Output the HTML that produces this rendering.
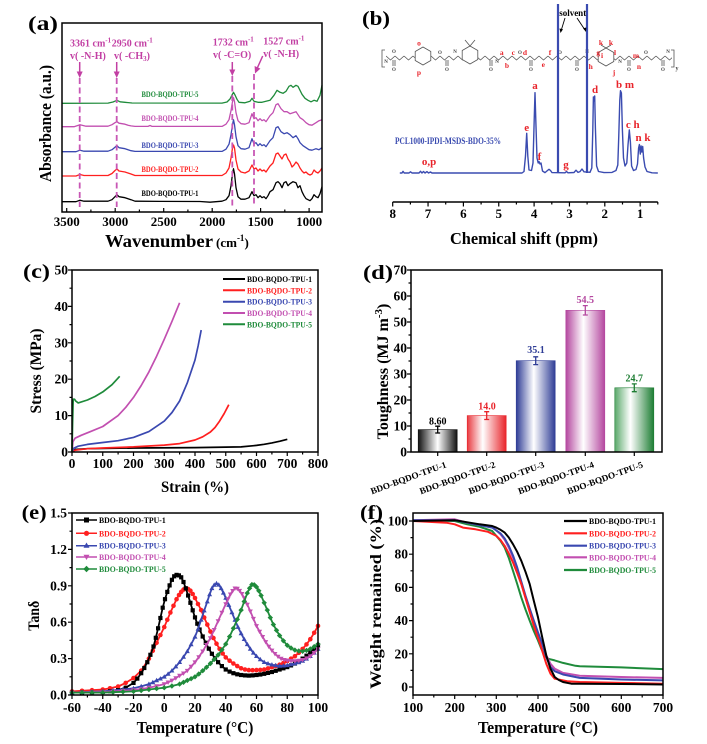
<!DOCTYPE html>
<html><head><meta charset="utf-8"><style>
html,body{margin:0;padding:0;background:#fff;}
svg{display:block;}
text{font-family:"Liberation Serif","DejaVu Serif",serif;font-weight:bold;}
</style></head><body>
<svg width="707" height="744" viewBox="0 0 707 744" xmlns="http://www.w3.org/2000/svg">
<defs>
<linearGradient id="g1" x1="0" x2="1" y1="0" y2="0"><stop offset="0" stop-color="#111"/><stop offset="0.5" stop-color="#fff"/><stop offset="1" stop-color="#111"/></linearGradient>
<linearGradient id="g2" x1="0" x2="1" y1="0" y2="0"><stop offset="0" stop-color="#e83a40"/><stop offset="0.4" stop-color="#fff"/><stop offset="1" stop-color="#e8232a"/></linearGradient>
<linearGradient id="g3" x1="0" x2="1" y1="0" y2="0"><stop offset="0" stop-color="#2f3d96"/><stop offset="0.45" stop-color="#fff"/><stop offset="1" stop-color="#2f3d96"/></linearGradient>
<linearGradient id="g4" x1="0" x2="1" y1="0" y2="0"><stop offset="0" stop-color="#b4479f"/><stop offset="0.45" stop-color="#fff"/><stop offset="1" stop-color="#b4479f"/></linearGradient>
<linearGradient id="g5" x1="0" x2="1" y1="0" y2="0"><stop offset="0" stop-color="#5aa86a"/><stop offset="0.4" stop-color="#fff"/><stop offset="1" stop-color="#1e7e34"/></linearGradient>
<pattern id="zz" x="386" y="55" width="9" height="6" patternUnits="userSpaceOnUse"><polyline points="0,1 4.5,5 9,1" stroke="#555" fill="none" stroke-width="0.8"/></pattern>
<marker id="m1" markerWidth="6" markerHeight="6" refX="3" refY="3" markerUnits="userSpaceOnUse"><rect x="0.9" y="0.9" width="4.2" height="4.2" fill="#000"/></marker>
<marker id="m2" markerWidth="6" markerHeight="6" refX="3" refY="3" markerUnits="userSpaceOnUse"><circle cx="3" cy="3" r="2.3" fill="#ff1f1f"/></marker>
<marker id="m3" markerWidth="6" markerHeight="6" refX="3" refY="3.2" markerUnits="userSpaceOnUse"><polygon points="3,0.6 5.5,5 0.5,5" fill="#3a48b0"/></marker>
<marker id="m4" markerWidth="6" markerHeight="6" refX="3" refY="2.8" markerUnits="userSpaceOnUse"><polygon points="0.5,1 5.5,1 3,5.4" fill="#c24fb0"/></marker>
<marker id="m5" markerWidth="6" markerHeight="6" refX="3" refY="3" markerUnits="userSpaceOnUse"><polygon points="3,0.3 5.7,3 3,5.7 0.3,3" fill="#1f8b3b"/></marker>
</defs>
<rect width="707" height="744" fill="#fff"/>

<!-- ============ PANEL A ============ -->
<text x="28" y="30" font-size="20" textLength="30" lengthAdjust="spacingAndGlyphs">(a)</text>
<g fill="none" stroke-linejoin="round" stroke-width="1.3">
<polyline stroke="#1f8b3b" points="62,103.3 108,103.1 113,102 117,100.3 120,101.8 125,102.3 132,103 222,103.1 227,102 230,99 232,95 233.5,92.3 235,95 237,99.3 239,102.3 245,102.8 250,101.3 252,98.3 254,101.3 258,102.3 262,102.3 266,101.3 270,100.3 274,95.3 277,90.3 280,92.3 283,93.3 286,91.3 289,86.3 291,85.3 293,87.3 296,85.3 298,86.3 300,90.3 302,94.3 305,98.3 308,100.3 311,101.8 314,100.3 317,101.3 320,95.3 322,85.3"/>
<polyline stroke="#c24fb0" points="62,126.7 74,126.7 80,124.7 86,126.2 108,126.2 112,124.7 115,122.7 117,121.7 119,123.2 122,123.7 125,124.2 128,125.2 131,125.9 135,126.4 148,126.4 150,125.5 152,126.4 222,126.4 226,124.2 229,119.7 231,110.7 232.5,101.7 233.5,97.7 234.5,101.7 236,112.7 238,120.7 241,123.7 245,124.2 249,122.7 252,113.7 254,118.7 256,117.7 258,120.7 260,118.7 262,120.7 264,119.7 266,121.7 268,118.7 270,115.7 273,112.7 276,104.7 278,103.7 281,108.7 284,111.7 287,111.7 290,113.7 293,112.7 296,111.7 298,114.7 300,117.7 303,119.7 306,122.7 309,124.7 312,125.2 316,122.7 319,120.7 322,119.7"/>
<polyline stroke="#3a48b0" points="62,151.7 76,151.7 80,150.2 84,151.2 108,151.2 112,149.7 115,147.2 117,145.7 119,147.7 122,148.2 125,148.7 128,149.7 131,150.7 135,151.4 222,151.4 226,149.2 229,144.2 231,134.7 232.5,124.7 233.5,119.7 234.5,124.7 236,136.7 238,145.7 241,148.7 245,149.2 249,147.7 252,138.7 254,143.7 256,142.7 258,145.7 260,143.7 262,145.7 264,144.7 266,146.7 268,143.7 270,140.7 273,137.7 276,127.7 278,126.7 281,131.7 284,133.7 287,132.7 290,134.7 293,137.7 296,135.7 298,138.7 300,142.7 303,145.7 306,147.7 309,149.7 312,150.2 316,148.7 319,149.7 322,147.7"/>
<polyline stroke="#ff1f1f" points="62,176 76,176 80,174.5 84,175.5 108,175.5 112,173.5 115,170.5 117,169 119,171 122,171.5 125,172 128,173 131,174 135,175.5 222,175.5 226,173 229,168 231,158 232.5,148 233.5,145 234.5,148 236,160 238,169 241,172 245,173 249,171 252,165 254,169 256,168 258,171 260,169 262,171 264,170 266,172 268,169 270,166 273,163 276,154 278,153 280,156 282,159 284,155 286,154 288,159 290,162 292,167 294,165 296,162 298,164 300,168 302,171 304,173 306,172 308,174 310,175 312,174 314,170 316,172 318,173 320,171 322,168"/>
<polyline stroke="#000" points="62,201.7 76,201.7 80,200.2 84,201.2 108,201.2 112,199.7 115,196.7 117,194.7 119,196.7 122,197.2 125,197.7 128,198.7 131,199.7 135,201.2 160,201.4 200,201.5 210,202.2 222,201.2 226,199.7 229,195.7 231,185.7 232.5,173.7 233.5,168.7 234.5,173.7 236,187.7 238,196.7 241,199.2 245,199.2 249,197.7 252,191.7 254,195.7 256,194.7 258,197.7 260,195.7 262,197.7 264,196.7 266,198.7 268,195.7 270,191.7 273,189.7 276,182.7 278,181.7 280,183.7 282,187.7 284,182.7 286,181.7 288,185.7 290,183.7 293,181.7 296,182.7 298,187.7 300,185.7 302,191.7 304,195.7 306,198.7 308,199.7 310,200.7 312,198.7 314,194.7 316,196.7 318,197.7 320,193.7 322,186.7"/>
</g>
<g stroke="#c857b5" stroke-width="1.8" stroke-dasharray="6,3.5" fill="none">
<path d="M79.7,78V207M116.7,78V207M232.3,76V207M254,74V207"/>
</g>
<g stroke="#c23fa3" stroke-width="1.5" fill="#c23fa3">
<path d="M79.7,62V73M116.7,62V73M232.3,62V71M262.7,56L257.3,68" fill="none"/>
<polygon points="76.7,71.5 82.7,71.5 79.7,78" stroke="none"/>
<polygon points="113.7,71.5 119.7,71.5 116.7,78" stroke="none"/>
<polygon points="229.3,69.5 235.3,69.5 232.3,76" stroke="none"/>
<polygon points="255,73.5 260.4,68.6 254.6,66" stroke="none"/>
</g>
<g fill="#c23fa3" font-size="10">
<text x="70" y="46.5">3361 cm<tspan font-size="7" dy="-4">-1</tspan></text>
<text x="70" y="59">v( -N-H)</text>
<text x="111.7" y="46.5">2950 cm<tspan font-size="7" dy="-4">-1</tspan></text>
<text x="114" y="59">v( -CH<tspan font-size="7" dy="2">3</tspan><tspan dy="-2">)</tspan></text>
<text x="212.7" y="45.5">1732 cm<tspan font-size="7" dy="-4">-1</tspan></text>
<text x="213" y="58">v( -C=O)</text>
<text x="263.3" y="44.5">1527 cm<tspan font-size="7" dy="-4">-1</tspan></text>
<text x="263.3" y="57">v( -N-H)</text>
</g>
<g font-size="8" text-anchor="middle">
<text x="170" y="97" fill="#1f8b3b" textLength="57" lengthAdjust="spacingAndGlyphs">BDO-BQDO-TPU-5</text>
<text x="170" y="121" fill="#c24fb0" textLength="57" lengthAdjust="spacingAndGlyphs">BDO-BQDO-TPU-4</text>
<text x="170" y="148" fill="#3a48b0" textLength="57" lengthAdjust="spacingAndGlyphs">BDO-BQDO-TPU-3</text>
<text x="170" y="172" fill="#ff1f1f" textLength="57" lengthAdjust="spacingAndGlyphs">BDO-BQDO-TPU-2</text>
<text x="170" y="196" fill="#000" textLength="57" lengthAdjust="spacingAndGlyphs">BDO-BQDO-TPU-1</text>
</g>
<rect x="62" y="23" width="260" height="189" fill="none" stroke="#000" stroke-width="1.5"/>
<path d="M66.7,212v-4M115.2,212v-4M163.7,212v-4M212.2,212v-4M260.6,212v-4M309.1,212v-4M90.9,212v-2.5M139.4,212v-2.5M187.9,212v-2.5M236.4,212v-2.5M284.8,212v-2.5" stroke="#000" stroke-width="1.2"/>
<g font-size="13" text-anchor="middle">
<text x="66.7" y="226">3500</text><text x="115.2" y="226">3000</text><text x="163.7" y="226">2500</text><text x="212.2" y="226">2000</text><text x="260.6" y="226">1500</text><text x="309.1" y="226">1000</text>
</g>
<text x="105" y="247" font-size="18" textLength="108" lengthAdjust="spacingAndGlyphs">Wavenumber</text>
<text x="216" y="247" font-size="13">(cm<tspan dy="-6" font-size="9">-1</tspan><tspan dy="6">)</tspan></text>
<text transform="translate(51,123.5) rotate(-90)" text-anchor="middle" font-size="17" textLength="117" lengthAdjust="spacingAndGlyphs">Absorbance (a.u.)</text>

<!-- ============ PANEL B ============ -->
<text x="362" y="25" font-size="20" textLength="28" lengthAdjust="spacingAndGlyphs">(b)</text>
<!-- structure -->
<rect x="386" y="55" width="286" height="6" fill="url(#zz)"/>
<g stroke="#555" stroke-width="0.8" fill="#fff">
<polygon points="423,47 430.8,51.5 430.8,60.5 423,65 415.2,60.5 415.2,51.5"/>
<polygon points="470,46 477.8,50.5 477.8,59.5 470,64 462.2,59.5 462.2,50.5"/>
<polygon points="606,48 613.8,52.5 613.8,61.5 606,66 598.2,61.5 598.2,52.5"/>
<path d="M470,46L465,40M470,46L475,40M606,48L601,45M606,48L611,45M393,60V66M395,60V66M446,60V66M448,60V66M490,60V66M492,60V66M530,60V66M532,60V66M576,60V66M578,60V66M628,60V66M630,60V66M662,60V66M664,60V66M385,50H382V67H385M671,50H674V67H671" fill="none"/>
</g>
<g font-size="5" fill="#444" font-weight="normal" text-anchor="middle">
<text x="394" y="71">O</text><text x="447" y="71">O</text><text x="491" y="71">O</text><text x="531" y="71">O</text><text x="577" y="71">O</text><text x="629" y="71">O</text><text x="663" y="71">O</text>
<text x="394" y="53">O</text><text x="440" y="54">O</text><text x="520" y="54">O</text><text x="560" y="54">O</text><text x="646" y="54">O</text>
<text x="386" y="63">N</text><text x="455" y="53">N</text><text x="497" y="63">N</text><text x="587" y="53">N</text><text x="620" y="63">N</text><text x="668" y="53">N</text>
<text x="677" y="70" font-size="6">y</text>
</g>
<g font-size="7.5" fill="#e8232a" text-anchor="middle">
<text x="419" y="45.5">o</text><text x="419" y="75">p</text>
<text x="501.7" y="55">a</text><text x="507" y="68">b</text><text x="513.3" y="55">c</text><text x="525" y="55">d</text>
<text x="543.3" y="67">e</text><text x="550" y="55">f</text><text x="598.3" y="55">g</text><text x="590.7" y="69">h</text>
<text x="602" y="58">i</text><text x="601" y="45">k</text><text x="611" y="45">k</text><text x="615" y="55">l</text>
<text x="614" y="75">j</text><text x="636" y="58">m</text><text x="639" y="69">n</text>
</g>
<!-- spectrum -->
<path fill="none" stroke="#3a4bb0" stroke-width="1.4" stroke-linejoin="round" d="M399.8,173 L402,173 L403,171.3 L404.2,173 L409,173 L410.5,171.8 L412,173 L419,173 L420.5,171.3 L422,173 L423.5,171.5 L425,173 L427,171.6 L428.5,173 L430.5,172 L432,173 L522,173 L524,171.5 L525.5,156 L526.7,133.3 L527.8,156 L529,170 L531.5,170.5 L533,163 L534.2,120 L535,92.7 L535.8,120 L537,158 L538.2,163 L539,161.5 L540,164 L541,163 L542.5,171 L545,172.6 L547.5,170.5 L549,169.3 L550.5,170.5 L552,172.6 L565,172.8 L566.5,171.5 L568,172.8 L574,172.5 L576,170.2 L578,172.4 L580,171.6 L582,169 L584,171.8 L590,172.3 L591.8,168 L592.8,130 L593.4,97 L594,101 L594.7,96 L595.4,128 L596.6,166 L598.5,171.5 L604,172.6 L612,172.4 L616,170.5 L617.8,165 L618.8,135 L619.8,100 L620.5,90.7 L621.4,93 L622.4,130 L623.5,158 L625,166 L626.8,163 L628,145 L629.3,130 L630.4,142 L631.6,166 L633.5,170.5 L636,169.5 L637.5,164 L638.6,148 L639.4,144.5 L640.3,154 L641.1,146 L641.9,152 L642.7,146.5 L643.6,158 L645,167 L647,171.5 L652,172.8 L657.8,173"/>
<path d="M558,4V173M587,4V173" stroke="#3a4bb0" stroke-width="2.2"/>
<text x="572.7" y="16" font-size="9" text-anchor="middle">solvent</text>
<g stroke="#000" stroke-width="0.9" fill="#000">
<path d="M565,18L561,31M577,18L585,30" fill="none"/>
<polygon points="560.5,33 559.5,28.5 563,29.3" stroke="none"/>
<polygon points="586,32 583,28.3 586.3,27.5" stroke="none"/>
</g>
<text x="395" y="144" font-size="9" fill="#3a4bb0" textLength="106" lengthAdjust="spacingAndGlyphs">PCL1000-IPDI-MSDS-BDO-35%</text>
<g font-size="11" fill="#e8232a" text-anchor="middle">
<text x="429" y="165">o,p</text><text x="535" y="89">a</text><text x="526.7" y="131">e</text><text x="539.5" y="160">f</text>
<text x="566" y="168">g</text><text x="595" y="93">d</text><text x="625" y="88">b m</text><text x="632.7" y="128">c h</text><text x="643" y="141">n k</text>
</g>
<path d="M392.7,202H657.8" stroke="#000" stroke-width="1.6"/>
<path d="M392.7,202v4.5M428.05,202v4.5M463.4,202v4.5M498.75,202v4.5M534.1,202v4.5M569.45,202v4.5M604.8,202v4.5M640.15,202v4.5M410.4,202v2.5M445.7,202v2.5M481.1,202v2.5M516.4,202v2.5M551.8,202v2.5M587.1,202v2.5M622.5,202v2.5M657.8,202v2.5" stroke="#000" stroke-width="1.2"/>
<g font-size="13" text-anchor="middle">
<text x="392.7" y="218">8</text><text x="428.05" y="218">7</text><text x="463.4" y="218">6</text><text x="498.75" y="218">5</text><text x="534.1" y="218">4</text><text x="569.45" y="218">3</text><text x="604.8" y="218">2</text><text x="640.15" y="218">1</text>
</g>
<text x="524" y="244" font-size="17" text-anchor="middle" textLength="148" lengthAdjust="spacingAndGlyphs">Chemical shift (ppm)</text>

<!-- ============ PANEL C ============ -->
<text x="23" y="278" font-size="20" textLength="27" lengthAdjust="spacingAndGlyphs">(c)</text>
<g fill="none" stroke-width="1.7" stroke-linejoin="round">
<polyline stroke="#000" points="72,452 75.1,449.5 87.4,448.7 133.5,448 195,447.6 241.1,446.9 256.5,445.4 264.2,444.3 271.9,442.9 280,441.2 287.3,439.3"/>
<polyline stroke="#ff1f1f" points="72,452 75.1,450.2 87.4,448.7 102.8,448 133.5,446.9 164.3,445.1 179.6,443.6 195,440 202.7,436.8 210.4,432 215,427.5 219.6,421.1 224.2,413.5 228.8,404.7"/>
<polyline stroke="#3a48b0" points="72,452 73.5,448.4 78.2,446.2 87.4,444.4 102.8,442.5 118.1,440.7 133.5,437.4 148.9,431.6 164.3,421.1 172,412.5 179.6,401 187.3,382.8 195,360 198.1,346 201.2,330.1"/>
<polyline stroke="#c24fb0" points="72,452 72.9,441.8 75.1,438.2 81.2,435.3 90.5,431.6 102.8,426.5 118.1,415.6 125.8,407.3 133.5,397.4 141.2,385.5 148.9,371.9 156.6,356.2 164.3,339.2 172,321.3 179.6,302.8"/>
<polyline stroke="#1f8b3b" points="72,452 72.6,422.9 73.2,399.2 74.5,399.2 75.7,401 78.2,402.9 87.4,400 95,396.5 102.8,391.9 112,384.7 119.7,376.3"/>
</g>
<g font-size="8.5">
<path d="M223,279H245" stroke="#000" stroke-width="2"/><text x="247" y="282" textLength="65" lengthAdjust="spacingAndGlyphs">BDO-BQDO-TPU-1</text>
<path d="M223,290.3H245" stroke="#ff1f1f" stroke-width="2"/><text x="247" y="293.3" fill="#ff1f1f" textLength="65" lengthAdjust="spacingAndGlyphs">BDO-BQDO-TPU-2</text>
<path d="M223,301.7H245" stroke="#3a48b0" stroke-width="2"/><text x="247" y="304.7" fill="#3a48b0" textLength="65" lengthAdjust="spacingAndGlyphs">BDO-BQDO-TPU-3</text>
<path d="M223,313H245" stroke="#c24fb0" stroke-width="2"/><text x="247" y="316" fill="#c24fb0" textLength="65" lengthAdjust="spacingAndGlyphs">BDO-BQDO-TPU-4</text>
<path d="M223,324.3H245" stroke="#1f8b3b" stroke-width="2"/><text x="247" y="327.3" fill="#1f8b3b" textLength="65" lengthAdjust="spacingAndGlyphs">BDO-BQDO-TPU-5</text>
</g>
<rect x="72" y="270" width="246" height="182" fill="none" stroke="#000" stroke-width="1.5"/>
<path stroke="#000" stroke-width="1.2" d="M72,452v4M102.75,452v4M133.5,452v4M164.25,452v4M195,452v4M225.75,452v4M256.5,452v4M287.25,452v4M318,452v4M87.4,452v2.5M118.1,452v2.5M148.9,452v2.5M179.6,452v2.5M210.4,452v2.5M241.1,452v2.5M271.9,452v2.5M302.6,452v2.5M72,452h-4M72,415.6h-4M72,379.2h-4M72,342.8h-4M72,306.4h-4M72,270h-4M72,433.8h-2.5M72,397.4h-2.5M72,361h-2.5M72,324.6h-2.5M72,288.2h-2.5"/>
<g font-size="13.5" text-anchor="middle">
<text x="72" y="468">0</text><text x="102.75" y="468">100</text><text x="133.5" y="468">200</text><text x="164.25" y="468">300</text><text x="195" y="468">400</text><text x="225.75" y="468">500</text><text x="256.5" y="468">600</text><text x="287.25" y="468">700</text><text x="318" y="468">800</text>
</g>
<g font-size="13.5" text-anchor="end">
<text x="68" y="456.5">0</text><text x="68" y="420.1">10</text><text x="68" y="383.7">20</text><text x="68" y="347.3">30</text><text x="68" y="310.9">40</text><text x="68" y="274.5">50</text>
</g>
<text x="195" y="492" font-size="16" text-anchor="middle" textLength="68" lengthAdjust="spacingAndGlyphs">Strain (%)</text>
<text transform="translate(41,371) rotate(-90)" text-anchor="middle" font-size="16" textLength="85" lengthAdjust="spacingAndGlyphs">Stress (MPa)</text>

<!-- ============ PANEL D ============ -->
<text x="363" y="279" font-size="20" textLength="30" lengthAdjust="spacingAndGlyphs">(d)</text>
<rect x="418.2" y="429.6" width="39" height="22.4" fill="url(#g1)" stroke="#111" stroke-width="0.6"/>
<rect x="467.2" y="415.6" width="39" height="36.4" fill="url(#g2)" stroke="#e8232a" stroke-width="0.6"/>
<rect x="516.2" y="360.7" width="39" height="91.3" fill="url(#g3)" stroke="#2f3d96" stroke-width="0.6"/>
<rect x="565.8" y="310.3" width="39" height="141.7" fill="url(#g4)" stroke="#b4479f" stroke-width="0.6"/>
<rect x="614.8" y="387.8" width="39" height="64.2" fill="url(#g5)" stroke="#1e7e34" stroke-width="0.6"/>
<g stroke-width="1.3" fill="none">
<path stroke="#000" d="M437.7,426.2V433M435.2,426.2h5M435.2,433h5"/>
<path stroke="#e8232a" d="M486.7,411.7V419.5M484.2,411.7h5M484.2,419.5h5"/>
<path stroke="#2f3d96" d="M535.7,356.8V364.6M533.2,356.8h5M533.2,364.6h5"/>
<path stroke="#b4479f" d="M585.3,305.6V315M582.8,305.6h5M582.8,315h5"/>
<path stroke="#1e7e34" d="M634.3,383.9V391.7M631.8,383.9h5M631.8,391.7h5"/>
</g>
<g font-size="10" text-anchor="middle">
<text x="437.7" y="424.3" fill="#000">8.60</text>
<text x="487" y="409.3" fill="#e8232a">14.0</text>
<text x="536" y="353" fill="#2f3d96">35.1</text>
<text x="585.3" y="303" fill="#b4479f">54.5</text>
<text x="634.3" y="381.3" fill="#1e7e34">24.7</text>
</g>
<rect x="411" y="270" width="251" height="182" fill="none" stroke="#000" stroke-width="1.5"/>
<path stroke="#000" stroke-width="1.2" d="M411,452h-4M411,426h-4M411,400h-4M411,374h-4M411,348h-4M411,322h-4M411,296h-4M411,270h-4M411,439h-2.5M411,413h-2.5M411,387h-2.5M411,361h-2.5M411,335h-2.5M411,309h-2.5M411,283h-2.5M437.7,452v4M486.7,452v4M535.7,452v4M585.3,452v4M634.3,452v4"/>
<g font-size="13.5" text-anchor="end">
<text x="407" y="456.5">0</text><text x="407" y="430.5">10</text><text x="407" y="404.5">20</text><text x="407" y="378.5">30</text><text x="407" y="352.5">40</text><text x="407" y="326.5">50</text><text x="407" y="300.5">60</text><text x="407" y="274.5">70</text>
</g>
<g font-size="9" text-anchor="end">
<text transform="translate(447,467) rotate(-20)" textLength="80" lengthAdjust="spacingAndGlyphs">BDO-BQDO-TPU-1</text>
<text transform="translate(496,467) rotate(-20)" textLength="80" lengthAdjust="spacingAndGlyphs">BDO-BQDO-TPU-2</text>
<text transform="translate(545,467) rotate(-20)" textLength="80" lengthAdjust="spacingAndGlyphs">BDO-BQDO-TPU-3</text>
<text transform="translate(594.6,467) rotate(-20)" textLength="80" lengthAdjust="spacingAndGlyphs">BDO-BQDO-TPU-4</text>
<text transform="translate(643.6,467) rotate(-20)" textLength="80" lengthAdjust="spacingAndGlyphs">BDO-BQDO-TPU-5</text>
</g>
<text transform="translate(388,371.5) rotate(-90)" text-anchor="middle" font-size="16">Toughness (MJ m<tspan font-size="11" dy="-6">-3</tspan><tspan dy="6">)</tspan></text>

<!-- ============ PANEL E ============ -->
<text x="21.7" y="519" font-size="20" textLength="25" lengthAdjust="spacingAndGlyphs">(e)</text>
<g fill="none" stroke-width="1.8" stroke-linejoin="round">
<polyline stroke="#ff1f1f" marker-start="url(#m2)" marker-mid="url(#m2)" marker-end="url(#m2)" points="72,691.4 82,690.8 92,690.2 102.75,689.5 110,688.3 118.1,686.5 125.7,682.9 133.5,678 141.2,670.7 148.9,658.6 152.8,650.8 156.6,642.8 160.4,635 164.25,627.1 167.3,619.8 170.4,612.5 173.5,605.8 176.55,599.2 179,595 181.2,591.9 183.5,589.6 185.8,588.3 188.1,589 190.4,590.7 192.7,594 195,598 198,604 201.15,610.1 204.2,617.5 207.3,624.6 210.4,631.5 213.45,638 216.5,643.7 219.6,648.9 222.7,653.5 225.75,657.4 229.6,660.7 233.4,663.5 237.3,666.1 241.1,668.3 245,669.5 248.8,670.1 252.6,670.2 256.5,670.1 260.3,669.9 264.2,669.5 268,668.4 271.9,667.1 275.7,666 279.6,664.7 283.4,663 287.25,661 291,658.7 294.9,656.2 298.8,652.8 302.6,648.9 306.5,644.4 310.3,639.2 314.2,632.8 318,625.9"/>
<polyline stroke="#000" marker-start="url(#m1)" marker-mid="url(#m1)" marker-end="url(#m1)" points="72,692.6 82,692.4 92,692.2 102.75,692 110,691.2 118.1,690.1 125.7,687.7 133.5,682.9 137.3,678.6 141.2,673.2 144.3,668 147.3,662.2 150.4,654.8 153.5,646.5 155.8,637.8 158.1,628.3 160.4,618 162.7,607.7 165,599.2 167.3,591.9 169.6,585.4 171.9,579.8 174.2,576.3 176.55,574.9 178.9,575.4 181.2,577.3 183.5,582 185.8,588.3 188.1,595.5 190.4,602.8 192.7,610.3 195,617.4 197.3,623.7 199.6,629.5 202.7,636.5 205.8,642.8 208.8,648.7 211.9,653.8 215,658.3 218.1,662.2 221.9,666.1 225.75,669.5 229.6,671.6 233.4,673.2 237.3,674.3 241.1,675 245,675.4 248.8,675.6 252.6,675.4 256.5,675 260.3,674.5 264.2,673.8 268,672.9 271.9,672 275.7,670.8 279.6,669.5 283.4,668.3 287.25,667.1 291,665.4 294.9,663.5 298.8,661.2 302.6,658.6 306.5,655.7 310.3,652.5 314.2,649 318,645.3"/>
<polyline stroke="#3a48b0" marker-start="url(#m3)" marker-mid="url(#m3)" marker-end="url(#m3)" points="72,692.6 82,692.2 92,691.8 102.75,691.4 113,690.3 123,689.4 133.5,688.3 141.2,686.4 148.9,684.1 152.8,682.4 156.6,680.4 160.4,678.7 164.25,676.8 168.1,674 171.9,670.7 175.8,666.6 179.6,662.2 183.5,657 187.3,651.3 191.1,644.4 195,636.8 198.1,628.8 201.15,619.8 204.2,610.6 207.3,601.6 209.6,594.5 211.9,588.3 214.2,585 216.5,583.4 218.8,584.8 221.1,588.3 223.4,592.8 225.75,598 228.8,605.1 231.9,612.5 235,620 238,627.1 241.1,633.4 244.2,639.2 247.3,644.3 250.35,648.9 253.4,652.8 256.5,656.2 260.3,659.5 264.2,662.2 268,663.6 271.9,664.7 275.7,665.4 279.6,665.9 283.4,665.7 287.25,665.3 291,664.5 294.9,663.5 298.8,662.4 302.6,661 306.5,658.8 310.3,656.2 314.2,652.8 318,648.9"/>
<polyline stroke="#c24fb0" marker-start="url(#m4)" marker-mid="url(#m4)" marker-end="url(#m4)" points="72,692.6 82,692.4 92,692.2 102.75,692 113,691.4 123,690.8 133.5,690.1 141.2,689 148.9,687.7 156.6,686 164.25,684.1 168.1,682.3 171.9,680.4 175.8,678.1 179.6,675.6 183.5,673.3 187.3,670.7 191.1,666.6 195,662.2 198.8,657 202.7,651.3 206.5,644.8 210.4,638 214.2,629.8 218.1,621 221.9,612.5 225.75,604 228,599 230.4,594.3 232.7,590.8 235,588.3 237.3,588.6 239.6,590.7 241.9,593.8 244.2,598 247.3,604.5 250.35,611.3 253.4,618.7 256.5,625.9 259.6,631.6 262.65,636.8 265.7,641.9 268.8,646.5 271.9,650.4 274.95,653.8 278,656.5 281.1,658.6 284.2,659.8 287.25,660.4 291,660.8 294.9,661 298.8,660.6 302.6,659.8 306.5,658.2 310.3,656.2 314.2,652.8 318,648.9"/>
<polyline stroke="#1f8b3b" marker-start="url(#m5)" marker-mid="url(#m5)" marker-end="url(#m5)" points="72,692.6 82,692.6 92,692.6 102.75,692.6 113,692.2 123,691.8 133.5,691.4 141.2,690.5 148.9,689.5 156.6,688.6 164.25,687.7 171.9,686 179.6,684.1 183.5,682.3 187.3,680.4 191.1,678.7 195,676.8 198.8,674 202.7,670.7 206.5,667.3 210.4,663.5 214.2,659.4 218.1,655 221.9,649.8 225.75,644.1 229.6,636.6 233.4,628.3 237.3,619.4 241.1,610.1 244.2,601.5 247.3,593.1 249.6,588.2 251.9,584.6 254.2,584.8 256.5,587 258.8,590.8 261.1,595.5 264.2,602.8 267.3,610.1 270.3,617.6 273.4,624.6 276.5,630.3 279.6,635.6 283.4,640.8 287.25,645.3 291,648 294.9,650.1 298.8,651 302.6,651.3 306.5,650.4 310.3,648.9 314.2,646.6 318,644.1"/>
</g>
<g font-size="8.5">
<path d="M76,520H97" stroke="#000" stroke-width="1.5"/><rect x="84" y="517.5" width="5" height="5" fill="#000"/><text x="99" y="523" textLength="66.7" lengthAdjust="spacingAndGlyphs">BDO-BQDO-TPU-1</text>
<path d="M76,533.3H97" stroke="#ff1f1f" stroke-width="1.5"/><circle cx="86.5" cy="533.3" r="2.6" fill="#ff1f1f"/><text x="99" y="536.3" fill="#ff1f1f" textLength="66.7" lengthAdjust="spacingAndGlyphs">BDO-BQDO-TPU-2</text>
<path d="M76,545.7H97" stroke="#3a48b0" stroke-width="1.5"/><polygon points="86.5,542.5 89.5,547.7 83.5,547.7" fill="#3a48b0"/><text x="99" y="548.7" fill="#3a48b0" textLength="66.7" lengthAdjust="spacingAndGlyphs">BDO-BQDO-TPU-3</text>
<path d="M76,557H97" stroke="#c24fb0" stroke-width="1.5"/><polygon points="83.5,554.8 89.5,554.8 86.5,560" fill="#c24fb0"/><text x="99" y="560" fill="#c24fb0" textLength="66.7" lengthAdjust="spacingAndGlyphs">BDO-BQDO-TPU-4</text>
<path d="M76,569H97" stroke="#1f8b3b" stroke-width="1.5"/><polygon points="86.5,565.8 89.7,569 86.5,572.2 83.3,569" fill="#1f8b3b"/><text x="99" y="572" fill="#1f8b3b" textLength="66.7" lengthAdjust="spacingAndGlyphs">BDO-BQDO-TPU-5</text>
</g>
<rect x="72" y="513" width="246" height="182" fill="none" stroke="#000" stroke-width="1.5"/>
<path stroke="#000" stroke-width="1.2" d="M72,695v4M102.75,695v4M133.5,695v4M164.25,695v4M195,695v4M225.75,695v4M256.5,695v4M287.25,695v4M318,695v4M87.4,695v2.5M118.1,695v2.5M148.9,695v2.5M179.6,695v2.5M210.4,695v2.5M241.1,695v2.5M271.9,695v2.5M302.6,695v2.5M72,695h-4M72,658.6h-4M72,622.2h-4M72,585.8h-4M72,549.4h-4M72,513h-4M72,676.8h-2.5M72,640.4h-2.5M72,604h-2.5M72,567.6h-2.5M72,531.2h-2.5"/>
<g font-size="13.5" text-anchor="middle">
<text x="72" y="712">-60</text><text x="102.75" y="712">-40</text><text x="133.5" y="712">-20</text><text x="164.25" y="712">0</text><text x="195" y="712">20</text><text x="225.75" y="712">40</text><text x="256.5" y="712">60</text><text x="287.25" y="712">80</text><text x="318" y="712">100</text>
</g>
<g font-size="13.5" text-anchor="end">
<text x="67" y="699.5">0.0</text><text x="67" y="663.1">0.3</text><text x="67" y="626.7">0.6</text><text x="67" y="590.3">0.9</text><text x="67" y="553.9">1.2</text><text x="67" y="517.5">1.5</text>
</g>
<text x="195" y="733" font-size="17" text-anchor="middle" textLength="116.7" lengthAdjust="spacingAndGlyphs">Temperature (°C)</text>
<text transform="translate(39,615.7) rotate(-90)" text-anchor="middle" font-size="16" textLength="30" lengthAdjust="spacingAndGlyphs">Tanδ</text>

<!-- ============ PANEL F ============ -->
<text x="360" y="519" font-size="20" textLength="23" lengthAdjust="spacingAndGlyphs">(f)</text>
<g fill="none" stroke-width="2" stroke-linejoin="round">
<polyline stroke="#1f8b3b" points="413,520.2 454.7,521 467.2,524.3 479.7,526.8 492.2,531 496.3,535.9 500.5,540.9 504.7,547.6 508.8,558 513,570.8 517.2,584 521.3,597.4 525.5,609.5 529.7,620.6 533.8,631 538,640.5 541.2,648.5 544.3,655.5 548.4,658.8 554.7,660.4 563,662.9 575.5,665.8 579.7,666.3 621.3,667.4 663,669.1"/>
<polyline stroke="#c24fb0" points="413,520.2 454.7,519.3 467.2,522.7 479.7,525.2 492.2,526.8 500.5,534.3 504.7,539.8 508.8,547.6 513,557.5 517.2,569.1 521.3,583 525.5,597.4 529.7,610.5 533.8,622.3 538,633.5 542.2,643.8 546.3,655.5 550.5,663.8 554.7,668.7 563,672.9 579.7,675.7 621.3,677 663,677.9"/>
<polyline stroke="#3a48b0" points="413,520.2 454.7,520.2 467.2,522.7 479.7,525.2 492.2,527.6 500.5,533.4 504.7,538.5 508.8,545.9 513,555.5 517.2,567.5 521.3,581.5 525.5,595.7 529.7,608.5 533.8,620.6 538,632.5 542.2,643.8 546.3,657.1 550.5,667.1 554.7,671.2 563,674.5 579.7,677.9 621.3,679.5 663,680.4"/>
<polyline stroke="#ff1f1f" points="413,521 446.3,522.7 454.7,524.3 463,527.6 475.5,529.3 488,531.8 496.3,535.9 500.5,540 504.7,545.9 508.8,553.5 513,562.5 517.2,573 521.3,584.1 526.3,600.7 530,613 533.8,625.6 537,635 540.1,643.8 543.2,654 546.3,663.8 550.5,673.7 554.7,678.7 567.2,681.2 579.7,682 621.3,682.9 663,683.7"/>
<polyline stroke="#000" points="413,521 454.7,520.2 479.7,524.3 492.2,526 496.3,527.6 500.5,529.8 504.7,532.6 508.8,537.5 513,544.2 517.2,551.8 521.3,560.8 525.5,571.8 529.7,584.1 533.8,600.7 538,617.3 542.2,637.2 546.3,655.5 550.5,668.7 554.7,677 558.8,680 563,682 571.3,683.7 579.7,683.7 621.3,684 663,684.5"/>
</g>
<g font-size="8.5">
<path d="M564,521H587" stroke="#000" stroke-width="2.2"/><text x="589" y="524" textLength="67" lengthAdjust="spacingAndGlyphs">BDO-BQDO-TPU-1</text>
<path d="M564,533.3H587" stroke="#ff1f1f" stroke-width="2.2"/><text x="589" y="536.3" fill="#ff1f1f" textLength="67" lengthAdjust="spacingAndGlyphs">BDO-BQDO-TPU-2</text>
<path d="M564,545.7H587" stroke="#3a48b0" stroke-width="2.2"/><text x="589" y="548.7" fill="#3a48b0" textLength="67" lengthAdjust="spacingAndGlyphs">BDO-BQDO-TPU-3</text>
<path d="M564,557.3H587" stroke="#c24fb0" stroke-width="2.2"/><text x="589" y="560.3" fill="#c24fb0" textLength="67" lengthAdjust="spacingAndGlyphs">BDO-BQDO-TPU-4</text>
<path d="M564,570H587" stroke="#1f8b3b" stroke-width="2.2"/><text x="589" y="573" fill="#1f8b3b" textLength="67" lengthAdjust="spacingAndGlyphs">BDO-BQDO-TPU-5</text>
</g>
<rect x="413" y="513" width="250" height="182" fill="none" stroke="#000" stroke-width="1.5"/>
<path stroke="#000" stroke-width="1.2" d="M413,695v4M454.7,695v4M496.3,695v4M538,695v4M579.7,695v4M621.3,695v4M663,695v4M433.8,695v2.5M475.5,695v2.5M517.2,695v2.5M558.8,695v2.5M600.5,695v2.5M642.2,695v2.5M413,687h-4M413,653.8h-4M413,620.6h-4M413,587.4h-4M413,554.2h-4M413,521h-4M413,670.4h-2.5M413,637.2h-2.5M413,604h-2.5M413,570.8h-2.5M413,537.6h-2.5"/>
<g font-size="13.5" text-anchor="middle">
<text x="413" y="712">100</text><text x="454.7" y="712">200</text><text x="496.3" y="712">300</text><text x="538" y="712">400</text><text x="579.7" y="712">500</text><text x="621.3" y="712">600</text><text x="663" y="712">700</text>
</g>
<g font-size="13.5" text-anchor="end">
<text x="408" y="691.5">0</text><text x="408" y="658.3">20</text><text x="408" y="625.1">40</text><text x="408" y="591.9">60</text><text x="408" y="558.7">80</text><text x="408" y="525.5">100</text>
</g>
<text x="538" y="733" font-size="17" text-anchor="middle" textLength="120" lengthAdjust="spacingAndGlyphs">Temperature (°C)</text>
<text transform="translate(381,604) rotate(-90)" text-anchor="middle" font-size="16" textLength="170" lengthAdjust="spacingAndGlyphs">Weight remained (%)</text>
</svg>
</body></html>
